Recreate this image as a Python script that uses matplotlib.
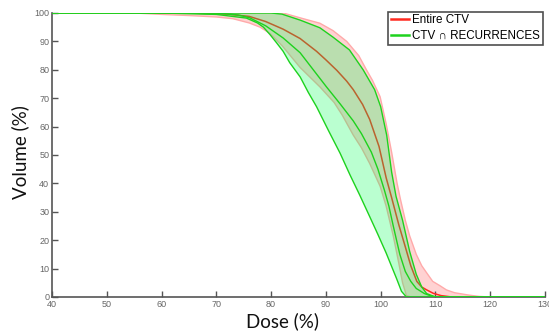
import matplotlib
matplotlib.use("Agg")
import matplotlib.pyplot as plt
import numpy as np

# ---- data ----
# Entire CTV: upper band edge, mean, lower band edge
ctv_up_x = [40, 80, 82.2, 85.3, 88.9, 91.3, 93.8, 96, 97.4, 98.5, 99.9, 101, 102, 103, 103.6, 104.5, 105.3, 106.5, 107.5, 108.4, 109.5, 110.8, 112, 113.5, 116, 118, 120, 130]
ctv_up_y = [100, 100, 100, 98.3, 96.4, 93.8, 90, 85, 80, 76.3, 70.5, 61, 51, 40, 34.5, 27, 21.5, 15, 11, 8.5, 5.5, 4, 2.5, 1.5, 0.7, 0.2, 0, 0]
ctv_mean_x = [40, 65, 72, 76, 79, 82.2, 85.3, 88.3, 90, 92, 93.8, 95, 96.7, 98, 99.7, 101, 102, 103.3, 104.4, 105.5, 106.6, 107.5, 108.4, 109.6, 111, 113, 130]
ctv_mean_y = [100, 100, 99.6, 98.8, 97, 94.3, 91, 86.5, 83.5, 79.8, 76, 73, 67.8, 62.5, 53, 42, 35, 25.5, 18.3, 11, 5.5, 3.5, 2.5, 1.3, 0.5, 0, 0]
ctv_lo_x = [40, 55, 60, 65, 70, 73, 76, 78, 79.8, 82, 85.3, 88.9, 91.5, 93, 95, 96.5, 98, 99.9, 101, 102.3, 103.3, 104, 104.7, 105.5, 130]
ctv_lo_y = [100, 100, 99.5, 99.1, 98.6, 98, 96.5, 95, 92.8, 88.5, 80.8, 74, 68.5, 64, 57, 52.5, 47, 39, 32, 21.5, 12, 5, 0.5, 0, 0]

# CTV ∩ recurrences: upper band edge, mean, lower band edge
rec_up_x = [40, 80, 82, 85.3, 88.9, 91.3, 94.3, 96.8, 98.9, 100, 101.1, 102, 102.8, 104, 105.3, 106.5, 107.5, 108.4, 110, 130]
rec_up_y = [100, 100, 99.6, 97.5, 94.8, 91.5, 87, 80, 73, 67, 57, 44, 35.5, 27, 16, 8, 3.5, 1.2, 0, 0]
rec_mean_x = [40, 70, 74, 76.1, 79, 82.2, 85.3, 87.1, 88.9, 90.1, 92.6, 95, 96.5, 98.3, 99.5, 100.7, 101.5, 102.3, 103.5, 104.5, 105.5, 106.5, 108, 109, 110, 130]
rec_mean_y = [100, 100, 99.3, 98.3, 95.5, 91.2, 86, 81.5, 77, 74, 68, 62, 57.5, 51, 45, 37.5, 32, 25, 15, 9, 5.5, 3, 1.2, 0.5, 0, 0]
rec_lo_x = [40, 60, 70, 75.5, 77.5, 78.6, 79.8, 81, 82.2, 83.4, 85.3, 86.8, 88.3, 90.5, 92.6, 94.4, 96.2, 98, 99.5, 101, 102.9, 103.8, 104.7, 130]
rec_lo_y = [100, 100, 99.5, 98.2, 96.5, 95, 92.4, 89.5, 86.5, 82.5, 77.5, 72, 67, 58.5, 50.6, 43, 35.8, 28.3, 22, 15.5, 6.5, 2, 0, 0]

series_labels = ["Entire CTV", "CTV \u2229 RECURRENCES"]
x_ticks = [40, 50, 60, 70, 80, 90, 100, 110, 120, 130]
y_ticks = [0, 10, 20, 30, 40, 50, 60, 70, 80, 90, 100]

# ---- figure ----
fig = plt.figure(figsize=(5.49, 3.34), dpi=100)
ax = fig.add_axes([52 / 549, 1 - 297 / 334, 493 / 549, 284 / 334])

red = "#ff2a20"
pink_fill = "#ffd2d2"
pink_edge = "#ffaaaa"
green = "#1ed21e"
green_fill = (0.0, 1.0, 0.33)

# Entire CTV band
ax.fill(np.concatenate([ctv_up_x, ctv_lo_x[::-1]]),
        np.concatenate([ctv_up_y, ctv_lo_y[::-1]]),
        color=pink_fill, lw=0, zorder=1)
ax.plot(ctv_up_x, ctv_up_y, color=pink_edge, lw=1.0, zorder=2)
ax.plot(ctv_lo_x, ctv_lo_y, color=pink_edge, lw=1.0, zorder=2)
ax.plot(ctv_mean_x, ctv_mean_y, color=red, lw=1.1, zorder=2, label=series_labels[0])

# Recurrence band
ax.fill(np.concatenate([rec_up_x, rec_lo_x[::-1]]),
        np.concatenate([rec_up_y, rec_lo_y[::-1]]),
        color=green_fill, alpha=0.27, lw=0, zorder=3)
ax.plot(rec_up_x, rec_up_y, color=green, lw=1.0, zorder=4)
ax.plot(rec_lo_x, rec_lo_y, color=green, lw=1.0, zorder=4)
ax.plot(rec_mean_x, rec_mean_y, color=green, lw=1.0, zorder=4, label=series_labels[1])

ax.set_xlim(40, 130)
ax.set_ylim(0, 100)
ax.set_xticks(x_ticks)
ax.set_yticks(y_ticks)
ax.set_xticklabels([str(v) for v in x_ticks])
ax.set_yticklabels([str(v) for v in y_ticks])

for s in ["top", "right"]:
    ax.spines[s].set_visible(False)
for s in ["left", "bottom"]:
    ax.spines[s].set_color("#555555")
    ax.spines[s].set_linewidth(1.2)

ax.tick_params(direction="in", length=4, width=1, color="#555555",
               labelcolor="#666666", labelsize=6.5, pad=2)
for lab in ax.get_xticklabels() + ax.get_yticklabels():
    lab.set_family(["Liberation Sans", "DejaVu Sans"])

ax.set_xlabel("Dose (%)", family=["Lato", "DejaVu Sans"], fontsize=13.5, color="#111111")
ax.set_ylabel("Volume (%)", family=["Lato", "DejaVu Sans"], fontsize=13.5, color="#111111")
ax.xaxis.set_label_coords((283 - 52) / 493, -(312 - 297) / 284)
ax.yaxis.set_label_coords(-(52 - 29) / 493, (297 - 152.5) / 284)

leg = ax.legend(loc="upper right", bbox_to_anchor=(0.995, 1.005), borderaxespad=0,
                prop={"family": ["Liberation Sans", "DejaVu Sans"], "size": 8.4},
                frameon=True, fancybox=False, handlelength=1.6, handletextpad=0.2,
                labelspacing=0.27, borderpad=0.25)
leg.get_frame().set_edgecolor("#222222")
leg.get_frame().set_linewidth(1.2)
for line in leg.get_lines():
    line.set_linewidth(1.8)

fig.savefig("out.png", dpi=100)
